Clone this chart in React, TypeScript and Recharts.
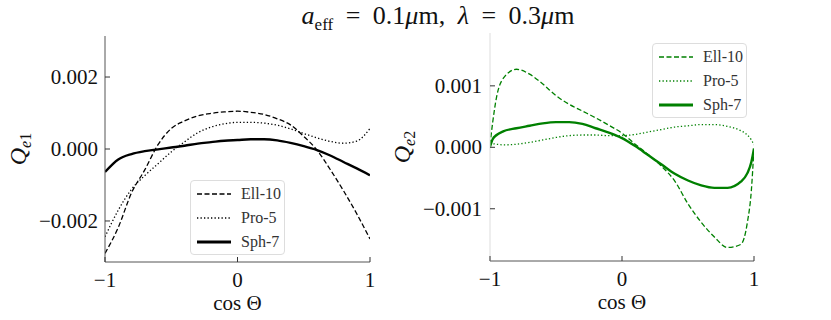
import { LineChart, Line, XAxis, YAxis, Legend } from "recharts";

// left panel, Q_e1
const cosLeft = [-1, -0.9, -0.8, -0.7, -0.6, -0.5, -0.4, -0.3, -0.2, -0.1, 0, 0.1, 0.2, 0.3, 0.4, 0.5, 0.6, 0.7, 0.8, 0.9, 1];
const ell10Left = [-0.0029, -0.00218, -0.00122, -0.00058, 0.00012, 0.00057, 0.00078, 0.00092, 0.00099, 0.00103, 0.00105, 0.00102, 0.00096, 0.00084, 0.00067, 0.00035, -0.00003, -0.00057, -0.00116, -0.0018, -0.0025];
const pro5Left = [-0.00244, -0.0017, -0.00112, -0.00074, -0.00041, -0.00008, 0.0002, 0.00045, 0.00061, 0.0007, 0.00074, 0.00074, 0.00072, 0.00066, 0.00056, 0.00043, 0.00031, 0.00021, 0.00016, 0.00022, 0.00057];
const sph7Left = [-0.00064, -0.00029, -0.00014, -0.00006, -0.00001, 0.00004, 0.00009, 0.00015, 0.00019, 0.00023, 0.00025, 0.00027, 0.00027, 0.00024, 0.00017, 0.00008, -0.00003, -0.00018, -0.00036, -0.00054, -0.00073];

// right panel, Q_e2
const cosRight = [-1, -0.98, -0.95, -0.9, -0.8, -0.7, -0.6, -0.5, -0.4, -0.3, -0.2, -0.1, 0, 0.1, 0.2, 0.3, 0.4, 0.5, 0.6, 0.7, 0.8, 0.9, 0.95, 0.98, 1];
const ell10Right = [0.00004, 0.0004, 0.00082, 0.00112, 0.00127, 0.00119, 0.00103, 0.00084, 0.0007, 0.00059, 0.00048, 0.00036, 0.00023, 0.00005, -0.00012, -0.00031, -0.00055, -0.00092, -0.00122, -0.00146, -0.00163, -0.00158, -0.00122, -0.0007, 0.0];
const pro5Right = [0.00007, 0.00006, 0.00005, 0.00004, 0.00005, 0.00008, 0.00012, 0.00016, 0.00019, 0.0002, 0.0002, 0.00019, 0.00019, 0.00021, 0.00025, 0.00029, 0.00033, 0.00035, 0.00037, 0.00037, 0.00034, 0.00027, 0.0002, 0.00012, 0.00004];
const sph7Right = [0.00001, 0.00013, 0.0002, 0.00026, 0.00031, 0.00035, 0.00039, 0.00041, 0.00041, 0.00038, 0.00031, 0.00024, 0.00015, 0.00002, -0.00013, -0.00028, -0.00043, -0.00054, -0.00062, -0.00066, -0.00066, -0.00056, -0.00042, -0.00024, -0.00002];

const seriesNames = ["Ell-10", "Pro-5", "Sph-7"];
const xTicks = [-1, 0, 1];
const leftYTicks = [-0.002, 0, 0.002];
const rightYTicks = [-0.001, 0, 0.001];

const FONT = "'Liberation Serif', 'DejaVu Serif', serif";
const TICK = 5;
const TICK_COLOR = "#333";

const lineStyles = [
  { dash: "5 2.5", width: 1.3 },
  { dash: "1.3 2.2", width: 1.3 },
  { dash: undefined, width: 2.4 },
];

const minus = (s: string) => s.replace("-", "\u2212");
const fmtX = (v: number) => minus(String(v));
const fmtY = (v: number) => minus(v.toFixed(3));

function makeRows(xs: number[], a: number[], b: number[], c: number[]) {
  return xs.map((x, i) => ({ x, ell: a[i], pro: b[i], sph: c[i] }));
}

const bottomTick = (props: any) => {
  const { x, y, payload } = props;
  return (
    <g>
      <line x1={x} y1={y} x2={x} y2={y - TICK} stroke={TICK_COLOR} />
      <text x={x} y={y + 25} textAnchor="middle" fontSize={21} fontFamily={FONT} fill="#111">
        {fmtX(payload.value)}
      </text>
    </g>
  );
};

const topTick = (props: any) => {
  const { x, y } = props;
  return <line x1={x} y1={y} x2={x} y2={y + TICK} stroke={TICK_COLOR} />;
};

const leftTick = (gap: number) => (props: any) => {
  const { x, y, payload } = props;
  return (
    <g>
      <line x1={x} y1={y} x2={x + TICK} y2={y} stroke={TICK_COLOR} />
      <text x={x - gap} y={y + 7} textAnchor="end" fontSize={21} fontFamily={FONT} fill="#111">
        {fmtY(payload.value)}
      </text>
    </g>
  );
};

const rightTick = (props: any) => {
  const { x, y } = props;
  return <line x1={x} y1={y} x2={x - TICK} y2={y} stroke={TICK_COLOR} />;
};

const xLabel = (props: any) => {
  const vb = props.viewBox;
  return (
    <text x={vb.x + vb.width / 2} y={vb.y + 48} textAnchor="middle" fontSize={21} fontFamily={FONT} fill="#111">
      cos Θ
    </text>
  );
};

const yLabel = (sub: string, baseX: number) => (props: any) => {
  const vb = props.viewBox;
  const cx = vb.x + baseX;
  const cy = vb.y + vb.height / 2;
  return (
    <text x={cx} y={cy} transform={`rotate(-90, ${cx}, ${cy})`} textAnchor="middle" fontFamily={FONT} fill="#111">
      <tspan fontSize={24} fontStyle="italic">Q</tspan>
      <tspan fontSize={16} fontStyle="italic" dy={5}>e</tspan>
      <tspan fontSize={16}>{sub}</tspan>
    </text>
  );
};

const legendBox = (color: string, left: number, top: number) => (
  <Legend
    layout="vertical"
    align="center"
    verticalAlign="middle"
    wrapperStyle={{ left, top, width: 95, height: 75 }}
    content={() => (
      <div
        style={{
          width: 95,
          height: 75,
          boxSizing: "border-box",
          border: "1px solid #ddd",
          borderRadius: 4,
          background: "rgba(255,255,255,0.85)",
          paddingTop: 1,
        }}
      >
        {seriesNames.map((name, i) => (
          <div key={name} style={{ display: "flex", alignItems: "center", height: 24 }}>
            <svg width={40} height={10} style={{ display: "block" }}>
              <line
                x1={6}
                x2={40}
                y1={5}
                y2={5}
                stroke={color}
                strokeWidth={i === 2 ? 3 : 1.3}
                strokeDasharray={lineStyles[i].dash}
              />
            </svg>
            <span style={{ marginLeft: 10, fontFamily: FONT, fontSize: 16, color: "#333", lineHeight: "16px" }}>{name}</span>
          </div>
        ))}
      </div>
    )}
  />
);

function Panel(props: {
  rows: any[];
  width: number;
  margin: any;
  yWidth: number;
  xHeight: number;
  yDomain: number[];
  yTicks: number[];
  color: string;
  sub: string;
  labelX: number;
  labelGap: number;
  lightSpine: boolean;
  legend: number[];
}) {
  const { rows, color } = props;
  const faint = props.lightSpine ? "#ddd" : "#555";
  return (
    <LineChart width={props.width} height={320} data={rows} margin={props.margin}>
      <XAxis
        dataKey="x"
        type="number"
        domain={[-1, 1]}
        ticks={xTicks}
        allowDataOverflow
        height={props.xHeight}
        tickSize={0}
        tickMargin={0}
        tickLine={false}
        axisLine={{ stroke: "#555" }}
        tick={bottomTick}
        label={{ content: xLabel }}
      />
      <XAxis
        xAxisId="t"
        orientation="top"
        dataKey="x"
        type="number"
        domain={[-1, 1]}
        ticks={xTicks}
        height={0}
        tickSize={0}
        tickMargin={0}
        tickLine={false}
        axisLine={{ stroke: faint }}
        tick={topTick}
      />
      <YAxis
        type="number"
        domain={props.yDomain}
        ticks={props.yTicks}
        allowDataOverflow
        width={props.yWidth}
        tickSize={0}
        tickMargin={0}
        tickLine={false}
        axisLine={{ stroke: faint }}
        tick={leftTick(props.labelGap)}
        label={{ content: yLabel(props.sub, props.labelX) }}
      />
      <YAxis
        yAxisId="r"
        orientation="right"
        type="number"
        domain={props.yDomain}
        ticks={props.yTicks}
        width={0}
        tickSize={0}
        tickMargin={0}
        tickLine={false}
        axisLine={{ stroke: "#555" }}
        tick={rightTick}
      />
      {["ell", "pro", "sph"].map((key, i) => (
        <Line
          key={key}
          dataKey={key}
          name={seriesNames[i]}
          type="monotone"
          stroke={color}
          strokeWidth={lineStyles[i].width}
          strokeDasharray={lineStyles[i].dash}
          dot={false}
          activeDot={false}
          isAnimationActive={false}
        />
      ))}
      {legendBox(color, props.legend[0], props.legend[1])}
    </LineChart>
  );
}

export default function App() {
  const leftRows = makeRows(cosLeft, ell10Left, pro5Left, sph7Left);
  const rightRows = makeRows(cosRight, ell10Right, pro5Right, sph7Right);
  return (
    <div style={{ position: "absolute", left: 0, top: 0, width: 831, height: 320, background: "#fff", overflow: "hidden" }}>
      <div style={{ position: "absolute", left: 0, top: 0 }}>
        <Panel
          rows={leftRows}
          width={420}
          margin={{ top: 36, right: 50, left: 0, bottom: 0 }}
          yWidth={105}
          xHeight={58}
          yDomain={[-0.00314, 0.00314]}
          yTicks={leftYTicks}
          color="#000"
          sub="1"
          labelX={26}
          labelGap={7}
          lightSpine={false}
          legend={[190, 180]}
        />
      </div>
      <div style={{ position: "absolute", left: 380, top: 0 }}>
        <Panel
          rows={rightRows}
          width={440}
          margin={{ top: 33, right: 66, left: 0, bottom: 0 }}
          yWidth={110}
          xHeight={59}
          yDomain={[-0.00185, 0.00186]}
          yTicks={rightYTicks}
          color="#008000"
          sub="2"
          labelX={30}
          labelGap={8}
          lightSpine={true}
          legend={[272, 43]}
        />
      </div>
      <div
        style={{
          position: "absolute",
          left: 238,
          width: 400,
          top: 1,
          textAlign: "center",
          fontFamily: FONT,
          fontSize: 26,
          wordSpacing: 6,
          color: "#111",
          whiteSpace: "nowrap",
        }}
      >
        <i>a</i>
        <sub style={{ fontSize: 17 }}>eff</sub> = 0.1<i>μ</i>m, <i>λ</i> = 0.3<i>μ</i>m
      </div>
    </div>
  );
}
